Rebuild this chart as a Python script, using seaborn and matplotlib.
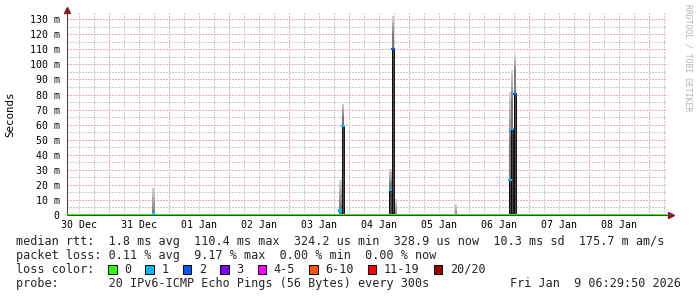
import matplotlib
matplotlib.use("Agg")
import matplotlib.pyplot as plt
import matplotlib.dates as mdates
import matplotlib.ticker as mticker
from matplotlib.patches import Rectangle
import numpy as np
import pandas as pd
import seaborn as sns

# ---------------- data ----------------
x_start = "2025-12-30 07:12"
x_end = "2026-01-09 07:12"
day_names = ["30 Dec", "31 Dec", "01 Jan", "02 Jan", "03 Jan",
             "04 Jan", "05 Jan", "06 Jan", "07 Jan", "08 Jan"]
y_ticks_ms = [0, 10, 20, 30, 40, 50, 60, 70, 80, 90, 100, 110, 120, 130]

# hourly samples that show anything above the baseline
sample_time = ["2025-12-31 17:48", "2026-01-03 20:30", "2026-01-03 21:30",
               "2026-01-04 16:36", "2026-01-04 17:36", "2026-01-04 18:36",
               "2026-01-05 18:48", "2026-01-06 16:18", "2026-01-06 17:18",
               "2026-01-06 18:18"]
median_ms = [1.0, 3.0, 59.0, 16.5, 110.5, 0.0, 0.0, 23.0, 57.0, 80.5]
smoke_mid_ms = [3.0, 6.6, 66.0, 21.0, 121.0, 0.0, 0.0, 52.0, 78.0, 96.0]
smoke_max_ms = [18.0, 23.0, 74.0, 30.5, 132.0, 10.4, 7.0, 82.0, 96.0, 106.0]
lost_pings = [1, 1, 1, 1, 2, 0, 0, 1, 1, 2]

loss_labels = ["0", "1", "2", "3", "4-5", "6-10", "11-19", "20/20"]
loss_colors = ["#26ff00", "#00b8ff", "#0059ff", "#7e00ff",
               "#ff00ff", "#ff5500", "#ff0000", "#a10000"]

stat_line1 = "median rtt:  1.8 ms avg  110.4 ms max  324.2 us min  328.9 us now  10.3 ms sd  175.7 m am/s"
stat_line2 = "packet loss: 0.11 % avg  9.17 % max  0.00 % min  0.00 % now"
loss_title = "loss color:"
probe_line = "probe:       20 IPv6-ICMP Echo Pings (56 Bytes) every 300s"
stamp = "Fri Jan  9 06:29:50 2026"
watermark = "RRDTOOL / TOBI OETIKER"
y_title = "Seconds"

# ---------------- figure ----------------
sns.set_theme(style="white")
plt.rcParams["font.family"] = ["DejaVu Sans Mono", "DejaVu Sans"]

W, H = 697, 297
fig = plt.figure(figsize=(W / 100, H / 100), dpi=100, facecolor="white")
ax = fig.add_axes([67 / W, 82 / H, 600 / W, 202.5 / H])
ax.set_facecolor("white")

t0 = mdates.date2num(pd.Timestamp(x_start))
t1 = mdates.date2num(pd.Timestamp(x_end))
xs = mdates.date2num(pd.to_datetime(sample_time))
hour = 1 / 24

df = pd.DataFrame({"t": xs, "median": median_ms, "mid": smoke_mid_ms,
                   "max": smoke_max_ms, "loss": lost_pings})

# grid (crisp 1px dotted lines)
grid_gray = "#cdcdcd"
grid_red = "#e9b0b0"
dots = (0, (1.39, 1.39))
for d in pd.date_range("2025-12-30", "2026-01-09 12:00", freq="6h"):
    v = mdates.date2num(d)
    if t0 < v < t1:
        red = d.hour == 0
        ax.axvline(v, color=grid_red if red else grid_gray, lw=0.72,
                   ls=dots, zorder=0.5, antialiased=False)
ax.set_axisbelow(True)
ax.yaxis.set_minor_locator(mticker.MultipleLocator(5))
ax.grid(axis="y", which="major", color=grid_red, lw=0.72, ls=dots,
        antialiased=False)
ax.grid(axis="y", which="minor", color=grid_gray, lw=0.72, ls=dots,
        antialiased=False)
ax.grid(axis="x", visible=False)

# smoke
light, midc = np.array([0.84, 0.84, 0.84]), np.array([0.52, 0.52, 0.52])
for _, r in df.iterrows():
    lo = r["mid"]
    edges = np.linspace(lo, r["max"], 6)
    for k in range(5):
        c = midc + (light - midc) * (k + 0.5) / 5
        ax.bar(r["t"], edges[k + 1] - edges[k], bottom=edges[k], width=hour,
               color=c, lw=0, zorder=2)
    if r["mid"] > 0:
        ax.bar(r["t"], r["mid"], width=hour, color="#7a7a7a", lw=0, zorder=2)
    if r["median"] > 5:
        ax.bar(r["t"], r["median"], width=hour, color="#4a4a4a",
               edgecolor="black", lw=0.6, zorder=3)

# baseline median (no loss)
base = pd.DataFrame({"t": [t0, t1], "v": [0.0, 0.0]})
sns.lineplot(data=base, x="t", y="v", color=loss_colors[0], lw=1.5,
             ax=ax, zorder=4)

# loss-coloured median marks
marks = df[df["loss"] > 0]
rect = [(-1.0, -0.6), (1.0, -0.6), (1.0, 0.6), (-1.0, 0.6)]
sns.scatterplot(data=marks, x="t", y="median", hue="loss",
                palette={1: loss_colors[1], 2: loss_colors[2]},
                marker=rect, s=7, linewidth=0, legend=False, ax=ax, zorder=5)

# axes
ax.set_xlim(t0, t1)
ax.set_ylim(0, 134.5)
noon = [mdates.date2num(pd.Timestamp("2025-12-30 12:00") + pd.Timedelta(days=i))
        for i in range(len(day_names))]
ax.set_xticks(noon)
ax.set_xticklabels(day_names)
ax.set_yticks(y_ticks_ms)
ax.yaxis.set_major_formatter(
    mticker.FuncFormatter(lambda v, p: "0" if v == 0 else f"{int(v)} m"))
ax.tick_params(axis="x", which="both", length=0, pad=3.6, labelsize=7.1,
               labelcolor="black")
ax.tick_params(axis="y", which="both", length=0, pad=5.2, labelsize=7.1,
               labelcolor="black")
ax.set_xlabel("")
ax.set_ylabel("")
for s in ["top", "right"]:
    ax.spines[s].set_visible(False)
for s in ["left", "bottom"]:
    ax.spines[s].set_color("#444444")
    ax.spines[s].set_linewidth(0.75)
    ax.spines[s].set_zorder(3.5)

arrow_c = "#8b1a1a"
ax.plot([0], [1.012], marker="^", ms=4.5, color=arrow_c, mec=arrow_c,
        transform=ax.transAxes, clip_on=False, zorder=6)
ax.plot([1.0065], [0], marker=">", ms=4.5, color=arrow_c, mec=arrow_c,
        transform=ax.transAxes, clip_on=False, zorder=6)
ax.plot([1.0, 1.005], [0, 0], color="#444444", lw=0.75,
        transform=ax.transAxes, clip_on=False, zorder=6)

# titles / watermark
fig.text(10.7 / W, 1 - 114 / H, y_title, rotation=90, ha="center",
         va="center", fontsize=7.8, color="black")
fig.text(688 / W, 1 - 4 / H, watermark, rotation=270, ha="center", va="top",
         fontsize=5.9, color="#b4b4b4")

# legend
fs = 8.5
rows = [241, 255.5, 269.5, 283.5]
fig.text(16 / W, 1 - rows[0] / H, stat_line1, fontsize=fs, va="center")
fig.text(16 / W, 1 - rows[1] / H, stat_line2, fontsize=fs, va="center")
fig.text(16 / W, 1 - rows[2] / H, loss_title, fontsize=fs, va="center")
fig.text(16 / W, 1 - rows[3] / H, probe_line, fontsize=fs, va="center")
fig.text(681 / W, 1 - rows[3] / H, stamp, fontsize=fs, va="center", ha="right")

box_x = 108.0
for lab, col in zip(loss_labels, loss_colors):
    fig.patches.append(Rectangle((box_x / W, 1 - (rows[2] + 4.5) / H),
                                 8.5 / W, 9 / H, transform=fig.transFigure,
                                 facecolor=col, edgecolor="black", lw=0.7))
    fig.text((box_x + 16) / W, 1 - rows[2] / H, lab, fontsize=fs, va="center")
    box_x += 16 + 7.1 * len(lab) + 14.3

fig.savefig("out.png", dpi=100, facecolor="white")
